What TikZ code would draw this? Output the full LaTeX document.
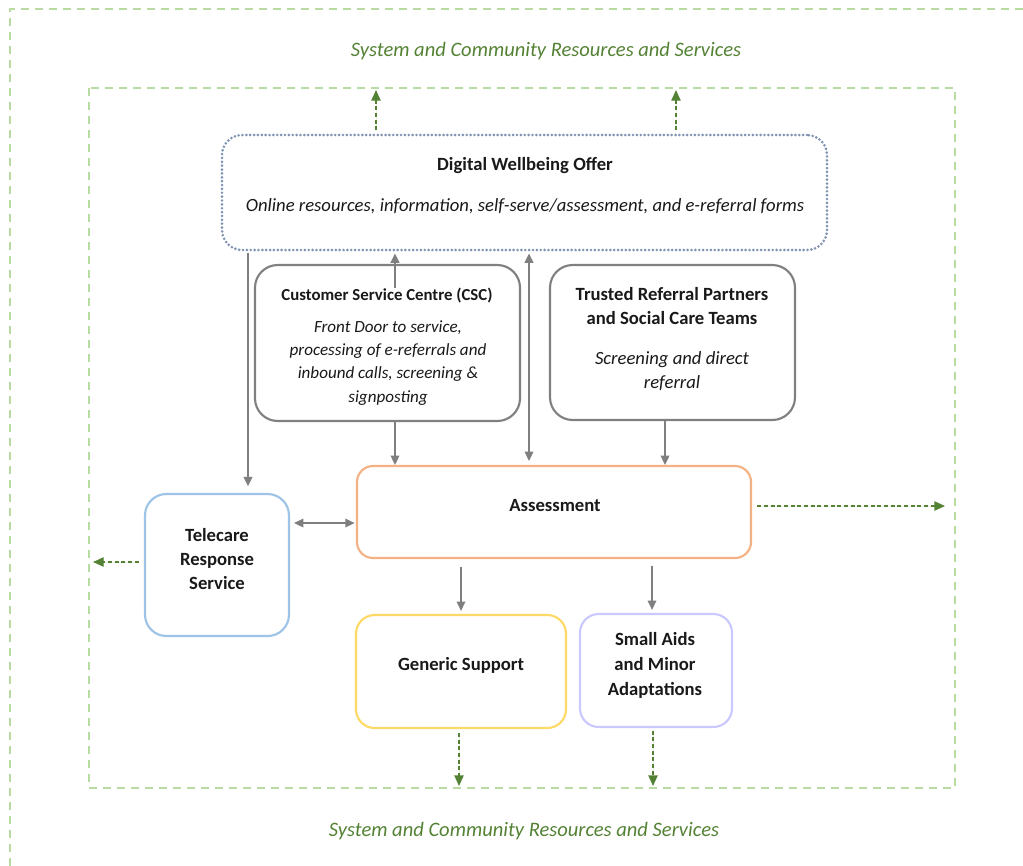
\documentclass[tikz,border=0pt]{standalone}
\usepackage{fontspec}
\setmainfont{Carlito}
\usetikzlibrary{arrows.meta}
\definecolor{dgreen}{HTML}{548235}
\definecolor{lgreen}{HTML}{B7DBA0}
\definecolor{cgray}{HTML}{808080}
\definecolor{bgray}{HTML}{7F7F7F}
\definecolor{dotblue}{HTML}{7F93B2}
\definecolor{orangeb}{HTML}{F4B183}
\definecolor{blueb}{HTML}{9DC3E6}
\definecolor{yellowb}{HTML}{FFD966}
\definecolor{lavb}{HTML}{C9C9FF}
\def\px{0.75pt}
\tikzset{
  box/.style={draw, rectangle, line width=1.6pt, inner sep=0pt},
  garr/.style={draw=bgray, line width=1.1pt, -{Triangle[length=7pt,width=6.5pt]}},
  garrb/.style={draw=bgray, line width=1.1pt, {Triangle[length=7pt,width=6.5pt]}-{Triangle[length=7pt,width=6.5pt]}},
  grarr/.style={draw=dgreen, fill=dgreen, line width=1pt, dash pattern=on 3pt off 2pt, -{Triangle[length=8pt,width=7pt]}},
  bord/.style={draw=lgreen, line width=1.2pt, dash pattern=on 6pt off 4.5pt},
  gtext/.style={text=dgreen, font=\fontsize{15.4}{18}\selectfont\itshape},
  ttl/.style={font=\fontsize{14}{17.8}\selectfont\bfseries, align=center, text=black!90},
  body/.style={font=\fontsize{14}{17.8}\selectfont\itshape, align=center, text=black!90},
}
\begin{document}
\begin{tikzpicture}[x=0.75pt,y=-0.75pt]
\useasboundingbox (0,0) rectangle (1023,865);
\clip (0,0) rectangle (1023,865);
% borders
\draw[bord] (10,880) -- (10,9) -- (1040,9);
\draw[bord] (89,88) rectangle (955,788);
\node[gtext] (toptxt) at (546,51) {System and Community Resources and Services};
\node[gtext] (bottxt) at (524,831) {System and Community Resources and Services};
% boxes
\node[box, draw=dotblue, line width=2.2pt, dash pattern=on 0pt off 2.9pt, line cap=round, rounded corners=15pt, minimum width=605*\px, minimum height=115*\px] (dig) at (524.5,192.5) {};
\node[box, draw=cgray, rounded corners=17pt, minimum width=265*\px, minimum height=156*\px] (csc) at (387.5,343) {};
\node[box, draw=cgray, rounded corners=17pt, minimum width=245*\px, minimum height=155*\px] (trp) at (672.5,342.5) {};
\node[box, draw=orangeb, rounded corners=12pt, minimum width=394*\px, minimum height=92*\px] (ass) at (554,512) {};
\node[box, draw=blueb, rounded corners=16pt, minimum width=144*\px, minimum height=142*\px] (tel) at (217,565) {};
\node[box, draw=yellowb, rounded corners=14pt, minimum width=210*\px, minimum height=113*\px] (gen) at (461,671.5) {};
\node[box, draw=lavb, rounded corners=14pt, minimum width=152*\px, minimum height=113*\px] (sma) at (656,670.5) {};
% texts
\node[ttl] (digt) at (525,166) {Digital Wellbeing Offer};
\node[body] (digb) at (525,206) {Online resources, information, self-serve/assessment, and e-referral forms};
\node[ttl, font=\fontsize{12.6}{17.5}\selectfont\bfseries] (csct) at (387,296) {Customer Service Centre (CSC)};
\node[body, font=\fontsize{12.8}{17.3}\selectfont\itshape] (cscb) at (388,363) {Front Door to service,\\processing of e-referrals and\\inbound calls, screening \&\\signposting};
\node[ttl, font=\fontsize{14}{18}\selectfont\bfseries] (trpt) at (672,306) {Trusted Referral Partners\\and Social Care Teams};
\node[body, font=\fontsize{14}{18}\selectfont\itshape] (trpb) at (672,371) {Screening and direct\\referral};
\node[ttl] (asst) at (555,506) {Assessment};
\node[ttl] (telt) at (217,559) {Telecare\\Response\\Service};
\node[ttl] (gent) at (461,665) {Generic Support};
\node[ttl, font=\fontsize{14}{18.8}\selectfont\bfseries] (smat) at (655,665) {Small Aids\\and Minor\\Adaptations};
% free-end coordinates
\coordinate (up1) at (376,90);
\coordinate (up2) at (676,90);
\coordinate (rt) at (945,506);
\coordinate (lt) at (93,562);
\coordinate (dn1) at (459,786);
\coordinate (dn2) at (653,786);
\coordinate (xa) at (248,0);
\coordinate (xb) at (395,288);
\coordinate (xc) at (529,0);
\coordinate (xd) at (665,0);
\coordinate (ya) at (0,523);
\coordinate (xe) at (461,0);
\coordinate (xf) at (652,0);
% green arrows
\draw[grarr, shorten <=2.5pt] (dig.north -| up1) -- (up1);
\draw[grarr, shorten <=2.5pt] (dig.north -| up2) -- (up2);
\draw[grarr, shorten <=4pt] (ass.east |- rt) -- (rt);
\draw[grarr, shorten <=4pt] (tel.west |- lt) -- (lt);
\draw[grarr, shorten <=3pt] (gen.south -| dn1) -- (dn1);
\draw[grarr, shorten <=2pt] (sma.south -| dn2) -- (dn2);
% gray arrows
\draw[garr, shorten <=1.5pt, shorten >=5pt] (dig.south -| xa) -- (tel.north -| xa);
\draw[garr, shorten >=1.5pt] (xb) -- (dig.south -| xb);
\draw[garr] (csc.south -| xb) -- (ass.north -| xb);
\draw[garrb, shorten <=1.5pt, shorten >=3pt] (dig.south -| xc) -- (ass.north -| xc);
\draw[garr] (trp.south -| xd) -- (ass.north -| xd);
\draw[garrb, shorten <=3pt, shorten >=1pt] (tel.east |- ya) -- (ass.west |- ya);
\draw[garr, shorten <=6pt, shorten >=2.3pt] (ass.south -| xe) -- (gen.north -| xe);
\draw[garr, shorten <=5pt, shorten >=2.3pt] (ass.south -| xf) -- (sma.north -| xf);
\end{tikzpicture}
\end{document}
